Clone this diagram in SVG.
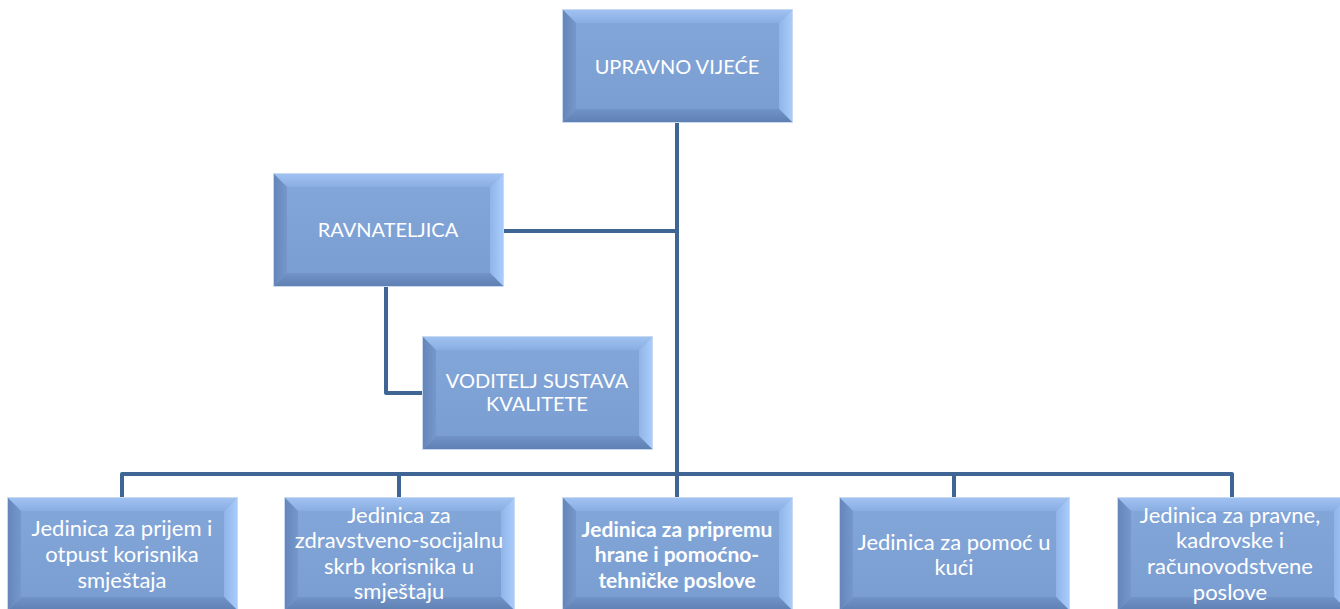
<svg xmlns="http://www.w3.org/2000/svg" xmlns:xlink="http://www.w3.org/1999/xlink" width="1340" height="609" viewBox="0 0 1340 609">
<style>
.t{font-family:Lato,"Open Sans","Liberation Sans",sans-serif;fill:#ffffff;text-anchor:middle}
.s1{font-size:20px}
.s2{font-size:22px}
.b{font-weight:bold;font-size:21px}
.c{fill:none;stroke:#3E6593;stroke-width:4;stroke-linejoin:round}
</style>
<defs>
<linearGradient id="gc" x1="0" y1="0" x2="0" y2="1">
<stop offset="0" stop-color="#84A7DA"/>
<stop offset="1" stop-color="#7A9DD1"/>
</linearGradient>
<linearGradient id="gt" x1="0" y1="0" x2="0" y2="1">
<stop offset="0" stop-color="#A0C2F2"/>
<stop offset="1" stop-color="#8AADE1"/>
</linearGradient>
<linearGradient id="gr" x1="1" y1="0" x2="0" y2="0">
<stop offset="0" stop-color="#A8CCFA"/>
<stop offset="1" stop-color="#90B4E8"/>
</linearGradient>
<linearGradient id="gl" x1="0" y1="0" x2="1" y2="0">
<stop offset="0" stop-color="#6486BA"/>
<stop offset="1" stop-color="#7597CB"/>
</linearGradient>
<linearGradient id="gb" x1="0" y1="1" x2="0" y2="0">
<stop offset="0" stop-color="#5F80B3"/>
<stop offset="1" stop-color="#7193C7"/>
</linearGradient>
<g id="box">
<rect x="-1" y="-1" width="231" height="114" fill="#C9DAF0"/>
<rect x="0" y="0" width="229" height="112" fill="url(#gc)"/>
<polygon points="0,0 229,0 216,13 13,13" fill="url(#gt)"/>
<polygon points="229,0 229,112 216,99 216,13" fill="url(#gr)"/>
<polygon points="0,112 229,112 216,99 13,99" fill="url(#gb)"/>
<polygon points="0,0 13,13 13,99 0,112" fill="url(#gl)"/>
</g>
</defs>
<rect width="1340" height="609" fill="#ffffff"/>
<g id="connectors">
<path class="c" d="M677,122 V474"/>
<path class="c" d="M503,231 H677"/>
<path class="c" d="M386,283 V393 H423"/>
<path class="c" d="M122,498 V474 H1232 V498"/>
<path class="c" d="M399,474 V498"/>
<path class="c" d="M677,474 V498"/>
<path class="c" d="M954,474 V498"/>
</g>
<g id="upravno">
<use xlink:href="#box" x="563" y="10"/>
<text class="t s1" x="677" y="74">UPRAVNO VIJEĆE</text>
</g>
<g id="ravnateljica">
<use xlink:href="#box" x="274" y="174"/>
<text class="t s1" x="388" y="237">RAVNATELJICA</text>
</g>
<g id="voditelj">
<use xlink:href="#box" x="423" y="337"/>
<text class="t s1" x="537" y="388">VODITELJ SUSTAVA</text>
<text class="t s1" x="537" y="411">KVALITETE</text>
</g>
<g id="jed1">
<use xlink:href="#box" x="8" y="498"/>
<text class="t s2" x="122" y="536">Jedinica za prijem i</text>
<text class="t s2" x="122" y="562">otpust korisnika</text>
<text class="t s2" x="122" y="588">smještaja</text>
</g>
<g id="jed2">
<use xlink:href="#box" x="285" y="498"/>
<text class="t s2" x="399" y="523">Jedinica za</text>
<text class="t s2" x="399" y="548">zdravstveno-socijalnu</text>
<text class="t s2" x="399" y="574">skrb korisnika u</text>
<text class="t s2" x="399" y="599">smještaju</text>
</g>
<g id="jed3">
<use xlink:href="#box" x="563" y="498"/>
<text class="t b" x="677" y="537">Jedinica za pripremu</text>
<text class="t b" x="677" y="562">hrane i pomoćno-</text>
<text class="t b" x="677" y="588">tehničke poslove</text>
</g>
<g id="jed4">
<use xlink:href="#box" x="840" y="498"/>
<text class="t s2" x="954" y="550">Jedinica za pomoć u</text>
<text class="t s2" x="954" y="575">kući</text>
</g>
<g id="jed5">
<use xlink:href="#box" x="1118" y="498"/>
<text class="t s2" x="1230" y="523">Jedinica za pravne,</text>
<text class="t s2" x="1230" y="548">kadrovske i</text>
<text class="t s2" x="1230" y="574">računovodstvene</text>
<text class="t s2" x="1230" y="600">poslove</text>
</g>
</svg>
